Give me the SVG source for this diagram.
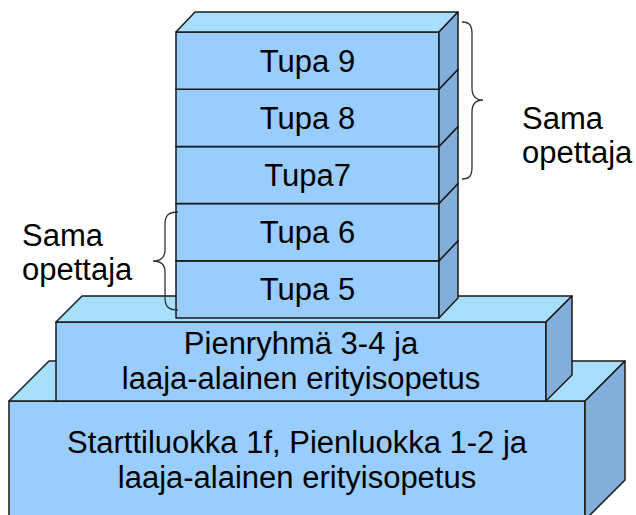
<svg xmlns="http://www.w3.org/2000/svg" width="636" height="515" viewBox="0 0 636 515">
<style>
.front{fill:#99CCFF;stroke:#1a1a1a;stroke-width:1.5;stroke-linejoin:round}
.top{fill:#A8DEFF;stroke:#1a1a1a;stroke-width:1.5;stroke-linejoin:round}
.side{fill:#82AFDA;stroke:#1a1a1a;stroke-width:1.5;stroke-linejoin:round}
text{font-family:"Liberation Sans",Arial,sans-serif;font-size:31px;fill:#000}
.c{text-anchor:middle}
.brace{fill:none;stroke:#333;stroke-width:1.3}
</style>
<rect width="636" height="515" fill="#fff"/>
<g id="base">
<rect class="front" x="9" y="401" width="576" height="119"/>
<polygon class="top" points="9,401 49,361 625,361 585,401"/>
<polygon class="side" points="585,401 625,361 625,480 585,520"/>
<text class="c" x="297" y="453">Starttiluokka 1f, Pienluokka 1-2 ja</text>
<text class="c" x="297" y="488">laaja-alainen erityisopetus</text>
</g>
<g id="pienryhma">
<rect class="front" x="56" y="322" width="490" height="79"/>
<polygon class="top" points="56,322 82,296 572,296 546,322"/>
<polygon class="side" points="546,322 572,296 572,375 546,401"/>
<text class="c" x="301" y="354">Pienryhmä 3-4 ja</text>
<text class="c" x="301" y="389">laaja-alainen erityisopetus</text>
</g>
<g id="tupa5">
<rect class="front" x="176" y="260.8" width="263" height="57.2"/>
<polygon class="top" points="176,260.8 195,240.8 458,240.8 439,260.8"/>
<polygon class="side" points="439,260.8 458,240.8 458,298 439,318"/>
<text class="c" x="307.5" y="300">Tupa 5</text>
</g>
<g id="tupa6">
<rect class="front" x="176" y="203.6" width="263" height="57.2"/>
<polygon class="top" points="176,203.6 195,183.6 458,183.6 439,203.6"/>
<polygon class="side" points="439,203.6 458,183.6 458,240.8 439,260.8"/>
<text class="c" x="307.5" y="243">Tupa 6</text>
</g>
<g id="tupa7">
<rect class="front" x="176" y="146.4" width="263" height="57.2"/>
<polygon class="top" points="176,146.4 195,126.4 458,126.4 439,146.4"/>
<polygon class="side" points="439,146.4 458,126.4 458,183.6 439,203.6"/>
<text class="c" x="307.5" y="186">Tupa7</text>
</g>
<g id="tupa8">
<rect class="front" x="176" y="89.2" width="263" height="57.2"/>
<polygon class="top" points="176,89.2 195,69.2 458,69.2 439,89.2"/>
<polygon class="side" points="439,89.2 458,69.2 458,126.4 439,146.4"/>
<text class="c" x="307.5" y="129">Tupa 8</text>
</g>
<g id="tupa9">
<rect class="front" x="176" y="32" width="263" height="57.2"/>
<polygon class="top" points="176,32 195,12 458,12 439,32"/>
<polygon class="side" points="439,32 458,12 458,69.2 439,89.2"/>
<text class="c" x="307.5" y="71.6">Tupa 9</text>
</g>
<g id="brace-right">
<path class="brace" d="M462,22 C470,22 472,26 472,34 L472,88 C472,96 476,100 483,100 C476,100 472,104 472,112 L472,167 C472,175 470,179 462,179"/>
<text x="522" y="129">Sama</text>
<text x="522" y="163">opettaja</text>
</g>
<g id="brace-left">
<path class="brace" d="M178,212 C168,212 165,216 165,224 L165,250 C165,258 160,261 153,261 C160,261 165,264 165,272 L165,298 C165,306 168,310 178,310"/>
<text x="22" y="246">Sama</text>
<text x="22" y="280">opettaja</text>
</g>
</svg>
